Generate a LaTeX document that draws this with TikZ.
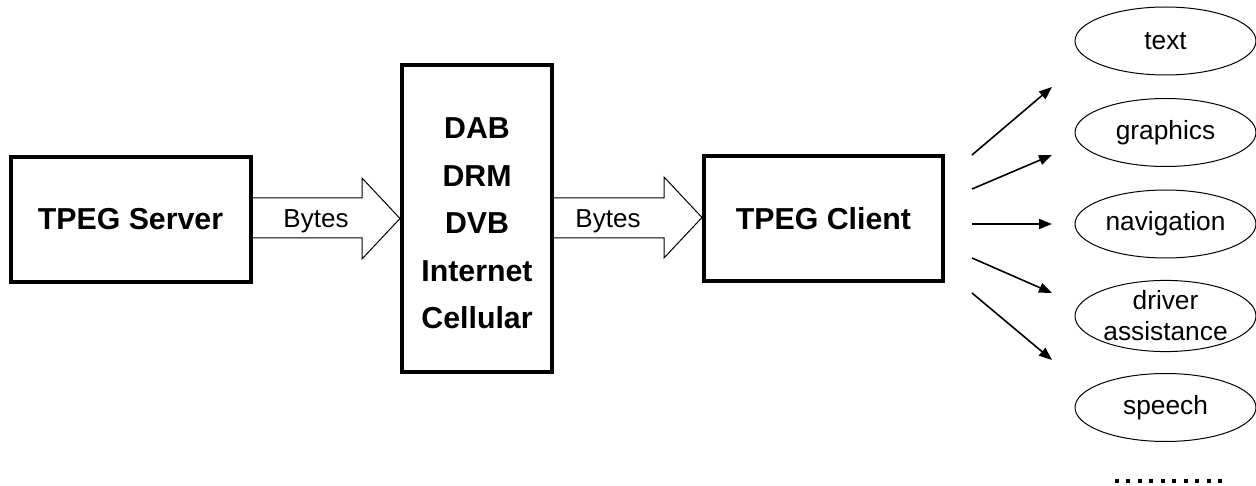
\documentclass[tikz,border=0pt]{standalone}
\usepackage{fontspec}
\setmainfont{Liberation Sans}
\usetikzlibrary{shapes.geometric,arrows.meta}
\begin{document}
\begin{tikzpicture}[x=1pt,y=-1pt,
  mainbox/.style={draw,line width=4pt,inner sep=0pt,font=\bfseries\fontsize{30.3}{47.5}\selectfont,align=center},
  hollowarrow/.style={draw,line width=1pt,line join=miter},
  bytes/.style={font=\fontsize{26}{30}\selectfont,inner sep=0pt,anchor=base},
  outbox/.style={draw,ellipse,line width=1pt,minimum width=181pt,minimum height=68pt,inner sep=0pt,font=\fontsize{26.3}{31}\selectfont,align=center},
  fanarrow/.style={line width=1.6pt,-{Triangle[length=13pt,width=10pt]}}]
\useasboundingbox (0,0) rectangle (1256,486);
% boxes
\node[mainbox,minimum width=240pt,minimum height=125pt] (srv) at (130.5,219.5) {TPEG Server};
\node[mainbox,minimum width=150pt,minimum height=307pt] (net) at (477,218.5)
  {\rule{0pt}{30.7pt}DAB\\DRM\\DVB\\Internet\\Cellular};
\node[mainbox,minimum width=239pt,minimum height=124.5pt] (cli) at (823.5,218.5) {TPEG Client};
% hollow arrows
\draw[hollowarrow] (252.5,198) -- (362,198) -- (362,178) -- (400,218.5) -- (362,259) -- (362,238) -- (252.5,238);
\node[bytes] (b1) at (316,227.5) {Bytes};
\draw[hollowarrow] (554,198) -- (664,198) -- (664,177) -- (702,217.5) -- (664,258) -- (664,238) -- (554,238);
\node[bytes] (b2) at (608,227.5) {Bytes};
% output ellipses
\node[outbox] (o1) at (1165.5,41) {text};
\node[outbox] (o2) at (1165.5,132.5) {graphics};
\node[outbox] (o3) at (1165.5,224) {navigation\strut};
\node[outbox] (o4) at (1165.5,316) {driver\\assistance};
\node[outbox] (o5) at (1165.5,407.5) {speech};
% fan arrows
\coordinate (s1) at (972,155);  \coordinate (e1) at (1052,87);
\coordinate (s2) at (972,189);  \coordinate (e2) at (1052,155);
\coordinate (s3) at (972,224);  \coordinate (e3) at (1052,224);
\coordinate (s4) at (972,258);  \coordinate (e4) at (1052,293);
\coordinate (s5) at (972,293);  \coordinate (e5) at (1052,360);
\foreach \i in {1,...,5} \draw[fanarrow] (s\i) -- (e\i);
% dots
\coordinate (d1) at (1115,481); \coordinate (d2) at (1222,481);
\draw[line width=4pt,dash pattern=on 4pt off 7.44pt] (d1) -- (d2);
\end{tikzpicture}
\end{document}
